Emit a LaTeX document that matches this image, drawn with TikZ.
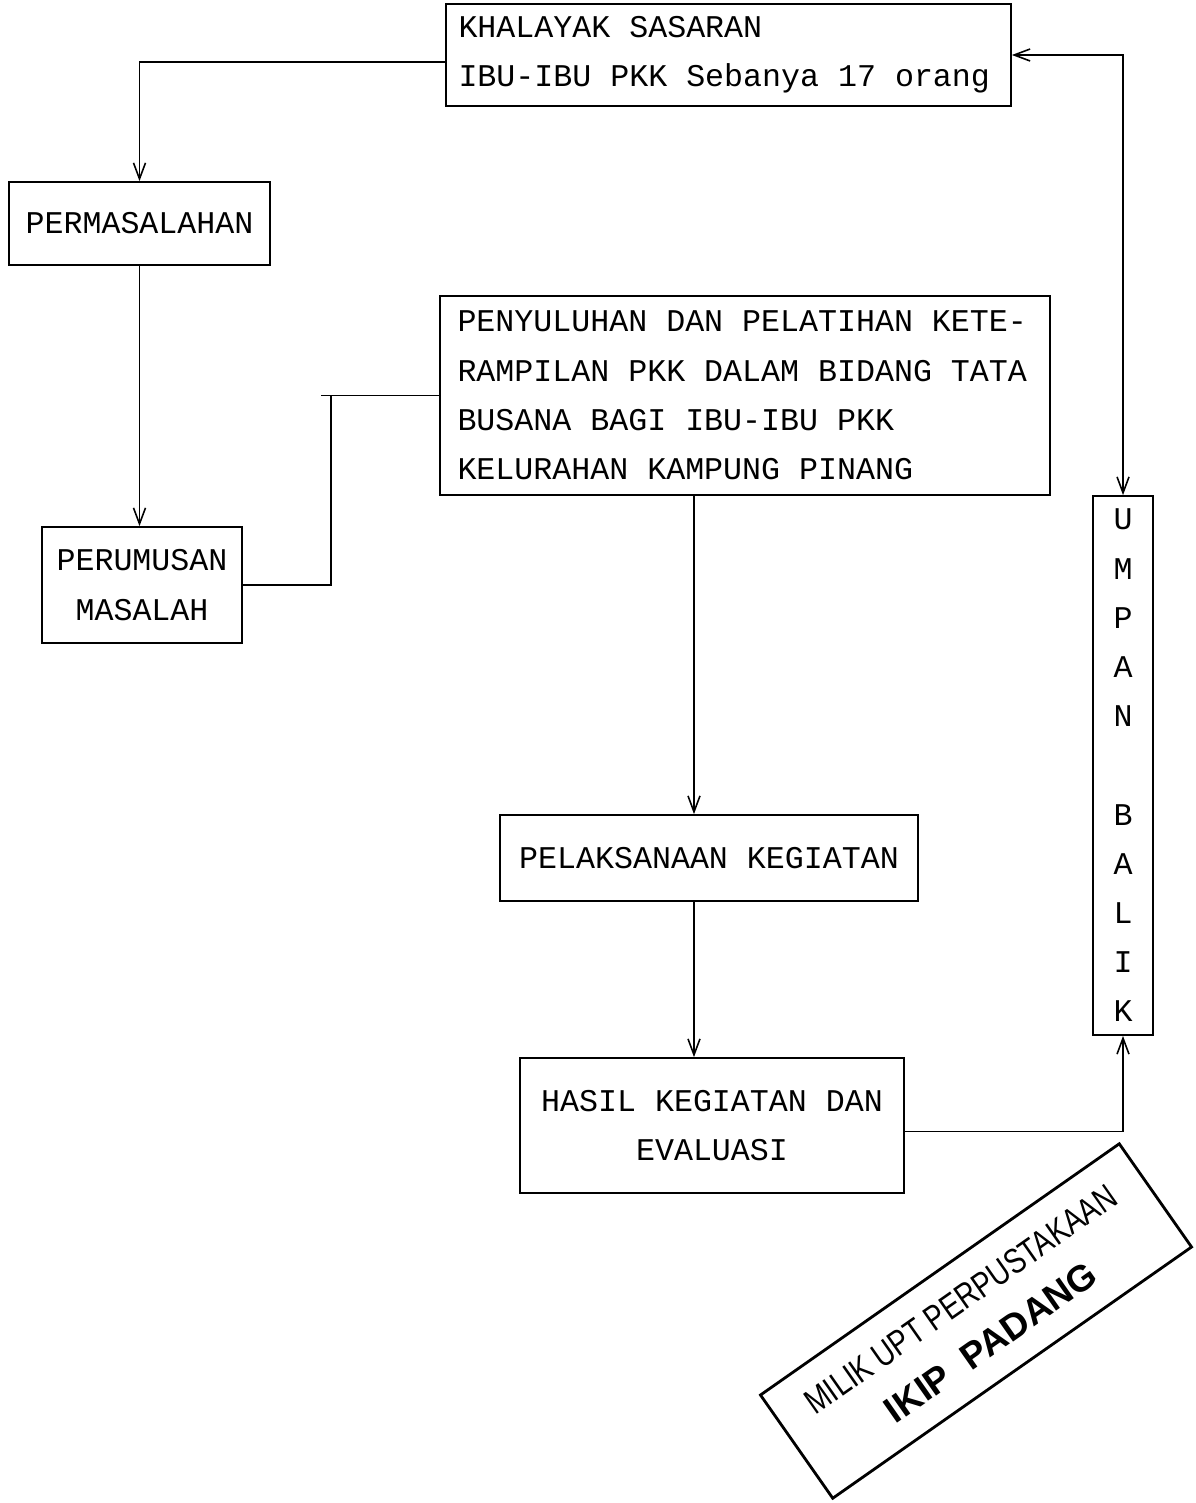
\documentclass[tikz,border=0pt]{standalone}
\usepackage{fontspec}
\setmonofont{Liberation Mono}
\newfontfamily\stampfont{Liberation Sans}
\usepackage{tikz}
\usetikzlibrary{arrows.meta}

\begin{document}
\begin{tikzpicture}[font=\ttfamily\fontsize{18}{28}\selectfont,
  bx/.style={rectangle,draw,line width=1pt,inner sep=0pt,align=center},
  lbx/.style={bx,align=left,execute at begin node={\spaceskip=0pt\xspaceskip=0pt\relax}},
  arr/.style={-{Straight Barb[length=3.2mm,width=2.4mm]},line width=0.9pt},
  darr/.style={{Straight Barb[length=3.2mm,width=2.4mm]}-{Straight Barb[length=3.2mm,width=2.4mm]},line width=0.9pt},
  ln/.style={line width=0.9pt},
  stampbox/.style={rectangle,draw,line width=1.6pt,align=center,rotate=35,minimum width=8.76cm,minimum height=2.52cm,font=\stampfont\fontsize{20}{30}\selectfont}]
\useasboundingbox (0,0) rectangle (23.9,-30.06);
\node[lbx,text width=10.8cm,inner xsep=0.25cm,minimum height=2.04cm] (khal) at (14.57,-1.10) {KHALAYAK SASARAN\\IBU-IBU PKK Sebanya 17 orang};
\node[bx,minimum width=5.22cm,minimum height=1.66cm] (masalah) at (2.79,-4.47) {PERMASALAHAN};
\node[lbx,text width=11.5cm,inner xsep=0.35cm,minimum height=3.98cm] (suluh) at (14.9,-7.91) {PENYULUHAN DAN PELATIHAN KETE-\\RAMPILAN PKK DALAM BIDANG TATA\\BUSANA BAGI IBU-IBU PKK\\KELURAHAN KAMPUNG PINANG};
\node[bx,minimum width=4.0cm,minimum height=2.32cm] (rumus) at (2.84,-11.70) {PERUMUSAN\\MASALAH};
\node[bx,minimum width=1.2cm,minimum height=10.78cm] (umpan) at (22.46,-15.31) {U\\M\\P\\A\\N\\ \\B\\A\\L\\I\\K};
\node[bx,minimum width=8.36cm,minimum height=1.72cm] (laksana) at (14.18,-17.16) {PELAKSANAAN KEGIATAN};
\node[bx,minimum width=7.68cm,minimum height=2.70cm] (hasil) at (14.24,-22.51) {HASIL KEGIATAN DAN\\EVALUASI};
\node[stampbox] (stamp) at (19.52,-26.42) {\scalebox{0.8}[1]{MILIK UPT PERPUSTAKAAN}\\{\fontsize{21}{30}\selectfont\bfseries IKIP\ \ PADANG}};
% connectors
\coordinate (elbow) at ([xshift=-2.16cm]suluh.west);
\coordinate (axis) at (13.88,0);
\draw[arr] ([yshift=-1.4mm]khal.west) -| (masalah.north);
\draw[arr] (masalah.south) -- (masalah.south |- rumus.north);
\draw[ln] (rumus.east) -| (elbow) ++(-2mm,0) -- (suluh.west);
\draw[arr] (suluh.south -| axis) -- (laksana.north -| axis);
\draw[arr] (laksana.south -| axis) -- (hasil.north -| axis);
\draw[arr] ([yshift=-1.2mm]hasil.east) -| (umpan.south);
\draw[darr] (umpan.north) |- (khal.east);
\end{tikzpicture}
\end{document}
